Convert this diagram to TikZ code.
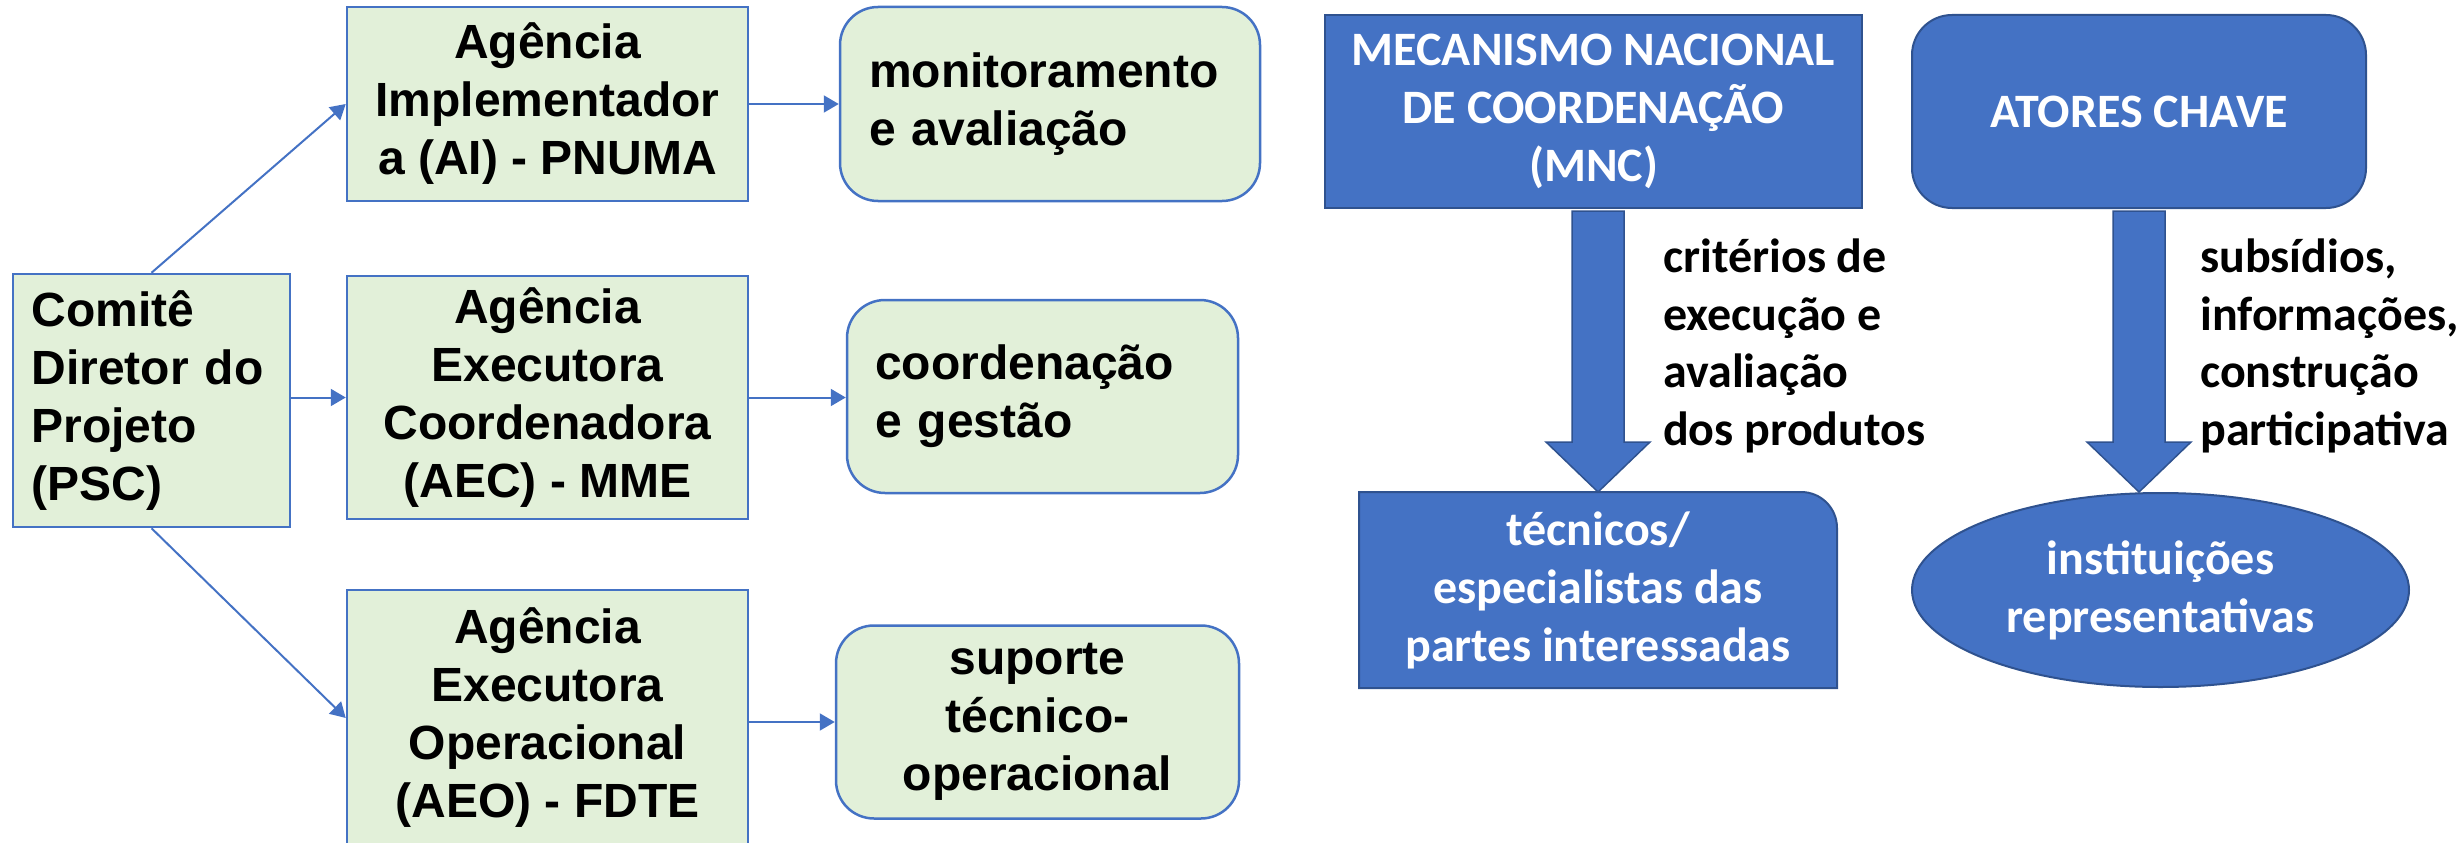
\documentclass[tikz,border=0pt]{standalone}
\usepackage{fontspec}
\setmainfont{Liberation Sans}
\newfontfamily\calibri{Carlito}
\usetikzlibrary{arrows.meta,calc,shapes.geometric,backgrounds}
\definecolor{paleGreen}{RGB}{226,240,217}
\definecolor{linkBlue}{RGB}{68,114,196}
\definecolor{darkBlue}{RGB}{47,82,143}

\begin{document}
\begin{tikzpicture}[x=1pt,y=1pt,yscale=-1,
  bigtext/.style={font=\fontsize{48}{58}\selectfont\bfseries},
  greenbox/.style={bigtext,draw=linkBlue,fill=paleGreen,line width=2.5pt,inner sep=0pt,align=center},
  greenround/.style={greenbox,rounded corners=38},
  bluebox/.style={font=\calibri\fontsize{48}{58}\selectfont\bfseries,text=white,draw=darkBlue,fill=linkBlue,line width=2pt,inner sep=0pt,align=center},
  note/.style={font=\calibri\fontsize{48}{57.5}\selectfont\bfseries,inner sep=0pt,align=left,anchor=west},
  link/.style={draw=linkBlue,line width=2pt,-{Triangle[length=15pt,width=17pt]}},
  fatarrow/.style={draw=darkBlue,fill=linkBlue,line width=1.5pt,line join=miter}]

\useasboundingbox (0,0) rectangle (2461,843);

% Comite and the three agencies
\node[greenbox,minimum width=277,minimum height=253,text width=240,align=left] (psc) at (151.5,400.5) {Comitê\\Diretor do\\Projeto\\(PSC)};
\node[greenbox,minimum width=401,minimum height=194] (ai) at (547.5,104) {Agência\\Implementador\\a (AI) - PNUMA};
\node[greenbox,minimum width=401,minimum height=243] (aec) at (547.5,397.5) {Agência\\Executora\\Coordenadora\\(AEC) - MME};
\node[greenbox,minimum width=401,minimum height=256] (aeo) at (547.5,718) {Agência\\Executora\\Operacional\\(AEO) - FDTE};

% roles
\node[greenround,minimum width=420,minimum height=194,text width=362,align=left] (mon) at (1050,104) {monitoramento\\e avaliação};
\node[greenround,minimum width=391,minimum height=193,text width=335,align=left] (coord) at (1042.5,396.5) {coordenação\\e gestão};
\node[greenround,minimum width=403,minimum height=193] (sup) at (1037.5,722) {suporte\\técnico-\\operacional};

% links
\draw[link] (psc.north) -- (ai.west);
\draw[link] (aec.west -| psc.east) -- (aec.west);
\draw[link] (psc.south) -- (aeo.west);
\draw[link] (ai.east) -- (mon.west);
\draw[link] (aec.east) -- (aec.east -| coord.west);
\draw[link] (aeo.east |- sup.west) -- (sup.west);

% MNC and key actors
\node[bluebox,minimum width=537,minimum height=193] (mnc) at (1593.5,111.5) {MECANISMO NACIONAL\\DE COORDENAÇÃO\\(MNC)};
\node[bluebox,rounded corners=40,minimum width=454,minimum height=193] (atores) at (2139,111.5) {ATORES CHAVE};
\node[bluebox,draw=none,fill=none,minimum width=476,minimum height=194] (tec) at (1598,590) {técnicos/\\especialistas das\\partes interessadas};
\begin{scope}[on background layer]
\draw[draw=darkBlue,fill=linkBlue,line width=2pt] (tec.south west) -- (tec.north west) -- ([xshift=-36pt]tec.north east) .. controls ([xshift=-16pt]tec.north east) and ([yshift=16pt]tec.north east) .. ([yshift=36pt]tec.north east) -- (tec.south east) -- cycle;
\end{scope}
\node[bluebox,ellipse,minimum width=497,minimum height=194] (inst) at (2160.5,590) {instituições\\representativas};

% block arrows
\coordinate (mtop) at (tec.north |- mnc.south);
\draw[fatarrow] ($(mtop)+(-26,2)$) -- ($(tec.north)+(-26,-50)$) -- ($(tec.north)+(-52,-50)$) -- (tec.north) -- ($(tec.north)+(52,-50)$) -- ($(tec.north)+(26,-50)$) -- ($(mtop)+(26,2)$) -- cycle;
\coordinate (atip) at (atores.south |- inst.north);
\draw[fatarrow] ($(atores.south)+(-26,2)$) -- ($(atip)+(-26,-50)$) -- ($(atip)+(-52,-50)$) -- (atip) -- ($(atip)+(52,-50)$) -- ($(atip)+(26,-50)$) -- ($(atores.south)+(26,2)$) -- cycle;

% arrow labels
\node[note] (crit) at (1663,346) {critérios de\\execução e\\avaliação\\dos produtos};
\node[note] (subs) at (2200,346) {subsídios,\\informações,\\construção\\participativa};

\end{tikzpicture}
\end{document}
